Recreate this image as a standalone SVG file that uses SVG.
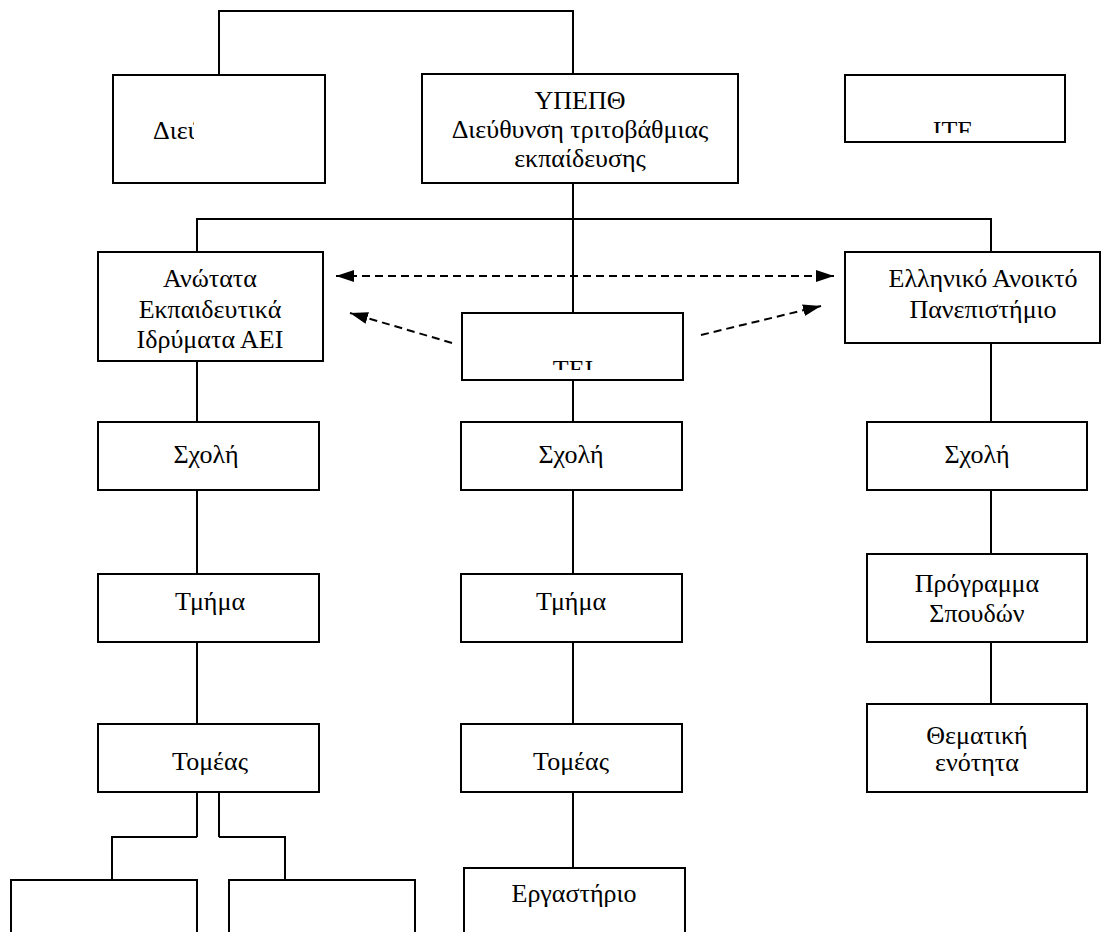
<svg xmlns="http://www.w3.org/2000/svg" width="1112" height="932" viewBox="0 0 1112 932">
<style>
.box{fill:#fff;stroke:#000;stroke-width:2}
.ln{fill:none;stroke:#000;stroke-width:2}
.dash{fill:none;stroke:#000;stroke-width:2;stroke-dasharray:8 5}
text{font-family:"Liberation Serif","Times New Roman","DejaVu Serif",serif;font-size:26px;fill:#000;text-anchor:middle}
</style>
<defs>
<marker id="ah" markerUnits="userSpaceOnUse" markerWidth="20" markerHeight="14" refX="18" refY="6" orient="auto-start-reverse">
<path d="M0,0 L18,6 L0,12 Z" fill="#000"/>
</marker>
<clipPath id="cDiet"><rect x="114" y="76" width="80" height="106"/></clipPath>
<clipPath id="cITE"><rect x="846" y="76" width="218" height="57"/></clipPath>
<clipPath id="cTEI"><rect x="463" y="314" width="219" height="56"/></clipPath>
</defs>
<rect width="1112" height="932" fill="#fff"/>
<g id="connectors">
<polyline class="ln" points="219,75 219,11 573,11 573,74"/>
<line class="ln" x1="573" y1="183" x2="573" y2="313"/>
<polyline class="ln" points="197,252 197,219 991,219 991,252"/>
<line class="ln" x1="197" y1="361" x2="197" y2="422"/>
<line class="ln" x1="197" y1="490" x2="197" y2="574"/>
<line class="ln" x1="197" y1="642" x2="197" y2="724"/>
<line class="ln" x1="197" y1="792" x2="197" y2="837"/>
<line class="ln" x1="219" y1="792" x2="219" y2="837"/>
<polyline class="ln" points="197,837 112,837 112,880"/>
<polyline class="ln" points="219,837 285,837 285,880"/>
<line class="ln" x1="573" y1="380" x2="573" y2="422"/>
<line class="ln" x1="573" y1="490" x2="573" y2="574"/>
<line class="ln" x1="573" y1="642" x2="573" y2="724"/>
<line class="ln" x1="573" y1="792" x2="573" y2="868"/>
<line class="ln" x1="991" y1="343" x2="991" y2="422"/>
<line class="ln" x1="991" y1="490" x2="991" y2="554"/>
<line class="ln" x1="991" y1="642" x2="991" y2="704"/>
<line class="dash" x1="336" y1="276" x2="834" y2="276" marker-start="url(#ah)" marker-end="url(#ah)"/>
<line class="dash" x1="452" y1="343" x2="350" y2="313" marker-end="url(#ah)"/>
<line class="dash" x1="701" y1="335" x2="821" y2="306" marker-end="url(#ah)"/>
</g>
<g id="diet"><rect class="box" x="113" y="75" width="212" height="108"/><text x="153" y="139" clip-path="url(#cDiet)" style="text-anchor:start">Διεύθυνση</text></g>
<g id="ypepth"><rect class="box" x="422" y="74" width="316" height="109"/><text x="580" y="109">ΥΠΕΠΘ</text><text x="580" y="138">Διεύθυνση τριτοβάθμιας</text><text x="580" y="167">εκπαίδευσης</text></g>
<g id="ite"><rect class="box" x="845" y="75" width="220" height="67"/><text x="953" y="139" clip-path="url(#cITE)">ΙΤΕ</text></g>
<g id="aei"><rect class="box" x="98" y="252" width="225" height="109"/><text x="210" y="287">Ανώτατα</text><text x="210" y="318">Εκπαιδευτικά</text><text x="210" y="348">Ιδρύματα ΑΕΙ</text></g>
<g id="eap"><rect class="box" x="845" y="252" width="255" height="91"/><text x="983" y="287">Ελληνικό Ανοικτό</text><text x="983" y="318">Πανεπιστήμιο</text></g>
<g id="tei"><rect class="box" x="462" y="313" width="221" height="67"/><text x="573" y="378" clip-path="url(#cTEI)">ΤΕΙ</text></g>
<g id="sxoli1"><rect class="box" x="98" y="422" width="221" height="68"/><text x="206" y="463">Σχολή</text></g>
<g id="sxoli2"><rect class="box" x="461" y="422" width="221" height="68"/><text x="571" y="463">Σχολή</text></g>
<g id="sxoli3"><rect class="box" x="867" y="422" width="220" height="68"/><text x="977" y="463">Σχολή</text></g>
<g id="tmima1"><rect class="box" x="98" y="574" width="221" height="68"/><text x="210" y="610">Τμήμα</text></g>
<g id="tmima2"><rect class="box" x="461" y="574" width="221" height="68"/><text x="571" y="610">Τμήμα</text></g>
<g id="programma"><rect class="box" x="867" y="554" width="220" height="88"/><text x="977" y="592">Πρόγραμμα</text><text x="977" y="622">Σπουδών</text></g>
<g id="tomeas1"><rect class="box" x="98" y="724" width="221" height="68"/><text x="210" y="770">Τομέας</text></g>
<g id="tomeas2"><rect class="box" x="461" y="724" width="221" height="68"/><text x="571" y="770">Τομέας</text></g>
<g id="thematiki"><rect class="box" x="867" y="704" width="220" height="88"/><text x="977" y="744">Θεματική</text><text x="977" y="771">ενότητα</text></g>
<g id="ergastirio"><rect class="box" x="464" y="868" width="221" height="80"/><text x="574" y="902">Εργαστήριο</text></g>
<g id="bottom1"><rect class="box" x="11" y="880" width="186" height="70"/></g>
<g id="bottom2"><rect class="box" x="229" y="880" width="186" height="70"/></g>
</svg>
